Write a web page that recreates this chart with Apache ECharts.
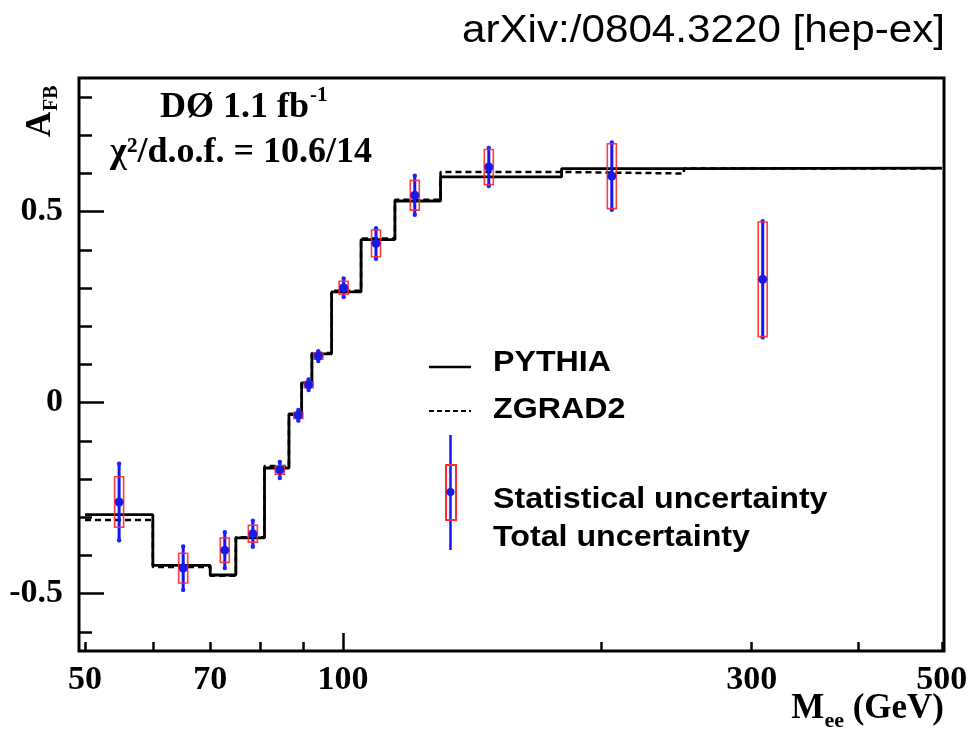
<!DOCTYPE html>
<html><head><meta charset="utf-8">
<script src="https://cdn.jsdelivr.net/npm/echarts@6/dist/echarts.min.js"></script>
<style>html,body{margin:0;padding:0;background:#fff}#c{width:978px;height:730px}</style>
</head><body><div id="c"></div>
<script>
// ---- data ----
const binEdges = [50, 60, 70, 75, 81, 86.5, 89.5, 92, 97, 105, 115, 130, 180, 250, 500];
const pythia = [-0.293, -0.426, -0.451, -0.354, -0.171, -0.031, 0.052, 0.128, 0.290, 0.427, 0.528, 0.591, 0.613, 0.614];
const zgrad2 = [-0.307, -0.430, -0.453, -0.352, -0.166, -0.029, 0.054, 0.130, 0.293, 0.430, 0.531, 0.604, 0.600, 0.613];
const massPoints = [54.8, 65.1, 72.8, 78.5, 84.4, 88.7, 91.2, 93.6, 100.2, 109.3, 121.3, 148, 206, 309];
const afbData = [-0.260, -0.433, -0.386, -0.343, -0.176, -0.033, 0.047, 0.122, 0.301, 0.417, 0.543, 0.617, 0.593, 0.323];
const statErr = [0.066, 0.039, 0.032, 0.022, 0.011, 0.008, 0.008, 0.008, 0.017, 0.035, 0.039, 0.046, 0.085, 0.150];
const totalErr = [0.100, 0.057, 0.047, 0.034, 0.021, 0.014, 0.014, 0.013, 0.024, 0.040, 0.051, 0.050, 0.088, 0.152];
const xRange = [49.2, 503];
const yRange = [-0.65, 0.85];
const xMinorTicks = [50, 60, 70, 80, 90, 200, 300, 400, 500];
const xMajorTicks = [100];
const xLabels = [50, 70, 100, 300, 500];
const yMajorTicks = [-0.5, 0, 0.5];
const yMinorTicks = [-0.6, -0.4, -0.3, -0.2, -0.1, 0.1, 0.2, 0.3, 0.4, 0.6, 0.7, 0.8];

// ---- helpers ----
const L = Math.log10;
const SERIF = '"Liberation Serif","Times New Roman",serif';
const SANS = '"Liberation Sans",Arial,Helvetica,sans-serif';
const mctx = document.createElement('canvas').getContext('2d');
function tw(font, s) { mctx.font = font; return mctx.measureText(s).width; }
function steps(vals) {
  const d = [];
  vals.forEach((v, i) => { d.push([L(binEdges[i]), v]); d.push([L(binEdges[i + 1]), v]); });
  return d;
}
function txt(text, x, y, font, align, extra) {
  return Object.assign({
    type: 'text', x: x, y: y, silent: true,
    style: { text: text, font: font, fill: '#000', align: align || 'left', textAlign: align || 'left',
             verticalAlign: 'middle', textVerticalAlign: 'middle' }
  }, extra || {});
}

const chart = echarts.init(document.getElementById('c'), null, { renderer: 'canvas' });

const xBase = { type: 'value', min: L(xRange[0]), max: L(xRange[1]), position: 'bottom',
  axisLine: { show: false, onZero: false }, splitLine: { show: false } };
const yBase = { type: 'value', min: yRange[0], max: yRange[1], position: 'left',
  axisLine: { show: false, onZero: false }, splitLine: { show: false } };

const labFontX = { fontFamily: SERIF, fontWeight: 'bold', fontSize: 34, color: '#000' };

const mainFont = 'bold 35px ' + SERIF, subFont = 'bold 22px ' + SERIF;
const xEnd = 944;
const wGeV = tw(mainFont, ' (GeV)'), wee = tw(subFont, 'ee'), wM = tw(mainFont, 'M');
const dFont = 'bold 36px ' + SERIF;
const wD = tw(dFont, 'DØ 1.1 fb');
const legFont = 'bold 29px ' + SANS;
const SX = { scaleX: 1.11 };

const option = {
  animation: false,
  backgroundColor: '#fff',
  grid: { left: 79, right: 34, top: 78, bottom: 79, show: true, borderColor: '#000', borderWidth: 3,
          backgroundColor: 'transparent', containLabel: false, outerBoundsMode: 'none' },
  xAxis: [
    Object.assign({}, xBase, {
      axisTick: { show: true, inside: true, length: 9, customValues: xMinorTicks.map(L), lineStyle: { color: '#000', width: 2.5 } },
      axisLabel: Object.assign({ show: true, margin: 12, customValues: xLabels.map(L),
        formatter: v => String(Math.round(Math.pow(10, v))) }, labFontX)
    }),
    Object.assign({}, xBase, {
      axisTick: { show: true, inside: true, length: 18, customValues: xMajorTicks.map(L), lineStyle: { color: '#000', width: 2.5 } },
      axisLabel: { show: false }
    })
  ],
  yAxis: [
    Object.assign({}, yBase, {
      axisTick: { show: true, inside: true, length: 25, customValues: yMajorTicks, lineStyle: { color: '#000', width: 2.5 } },
      axisLabel: Object.assign({ show: true, margin: 16, customValues: yMajorTicks,
        formatter: v => (v === 0 ? '0' : String(v)) }, labFontX)
    }),
    Object.assign({}, yBase, {
      axisTick: { show: true, inside: true, length: 13, customValues: yMinorTicks, lineStyle: { color: '#000', width: 2.5 } },
      axisLabel: { show: false }
    })
  ],
  series: [
    { name: 'PYTHIA', type: 'line', xAxisIndex: 0, yAxisIndex: 0, data: steps(pythia), symbol: 'none',
      lineStyle: { color: '#000', width: 2.8 }, z: 3 },
    { name: 'ZGRAD2', type: 'line', xAxisIndex: 0, yAxisIndex: 0, data: steps(zgrad2), symbol: 'none',
      lineStyle: { color: '#000', width: 2.5, type: [6, 4] }, z: 3 },
    { name: 'data', type: 'custom', xAxisIndex: 0, yAxisIndex: 0, z: 5,
      data: massPoints.map((m, i) => [L(m), afbData[i], statErr[i], totalErr[i]]),
      encode: { x: 0, y: 1 },
      renderItem: function (params, api) {
        const x = api.value(0), y = api.value(1), s = api.value(2), t = api.value(3);
        const c = api.coord([x, y]);
        const tTop = api.coord([x, y + t]), tBot = api.coord([x, y - t]);
        const sTop = api.coord([x, y + s]), sBot = api.coord([x, y - s]);
        return { type: 'group', children: [
          { type: 'line', shape: { x1: c[0], y1: tTop[1], x2: c[0], y2: tBot[1] },
            style: { stroke: '#1414ff', lineWidth: 3 } },
          { type: 'circle', shape: { cx: c[0], cy: tTop[1], r: 2.2 }, style: { fill: '#2020ff' } },
          { type: 'circle', shape: { cx: c[0], cy: tBot[1], r: 2.2 }, style: { fill: '#2020ff' } },
          { type: 'rect', shape: { x: c[0] - 4.5, y: sTop[1], width: 9, height: sBot[1] - sTop[1] },
            style: { fill: 'none', stroke: '#ff2a2a', lineWidth: 1.6, opacity: 0.9 } },
          { type: 'circle', shape: { cx: c[0], cy: c[1], r: 4.5 }, style: { fill: '#1a1ae6' } }
        ] };
      }
    }
  ],
  graphic: [
    txt('arXiv:/0804.3220 [hep-ex]', 945, 32, '38px ' + SANS, 'right', SX),
    txt('DØ 1.1 fb', 160, 108, dFont, 'left'),
    txt('-1', 160 + wD + 1, 96, 'bold 21px ' + SERIF, 'left'),
    txt('χ²/d.o.f. = 10.6/14', 110, 153, dFont, 'left'),
    // y-axis title
    txt('A', 41, 137, 'bold 35px ' + SERIF, 'left', { rotation: Math.PI / 2 }),
    txt('FB', 52, 111, 'bold 20px ' + SERIF, 'left', { rotation: Math.PI / 2 }),
    // x-axis title
    txt('M', xEnd - wGeV - wee - wM, 708.5, mainFont, 'left'),
    txt('ee', xEnd - wGeV - wee, 721.5, subFont, 'left'),
    txt(' (GeV)', xEnd - wGeV, 708.5, mainFont, 'left'),
    // legend
    { type: 'line', silent: true, shape: { x1: 429, y1: 367, x2: 471, y2: 367 }, style: { stroke: '#000', lineWidth: 2.5 } },
    txt('PYTHIA', 493, 363, legFont, 'left', SX),
    { type: 'line', silent: true, shape: { x1: 429, y1: 411, x2: 471, y2: 411 }, style: { stroke: '#000', lineWidth: 2.2, lineDash: [5, 3] } },
    txt('ZGRAD2', 493, 410, legFont, 'left', SX),
    { type: 'line', silent: true, shape: { x1: 450.5, y1: 435, x2: 450.5, y2: 550 }, style: { stroke: '#1414ff', lineWidth: 2.5 } },
    { type: 'rect', silent: true, shape: { x: 446, y: 465, width: 10, height: 55 }, style: { fill: 'none', stroke: '#ff2a2a', lineWidth: 2 } },
    { type: 'circle', silent: true, shape: { cx: 450.5, cy: 492, r: 4 }, style: { fill: '#1a1ae6' } },
    txt('Statistical uncertainty', 493, 500, legFont, 'left', SX),
    txt('Total uncertainty', 493, 538, legFont, 'left', SX)
  ]
};
chart.setOption(option);
</script>
</body></html>
